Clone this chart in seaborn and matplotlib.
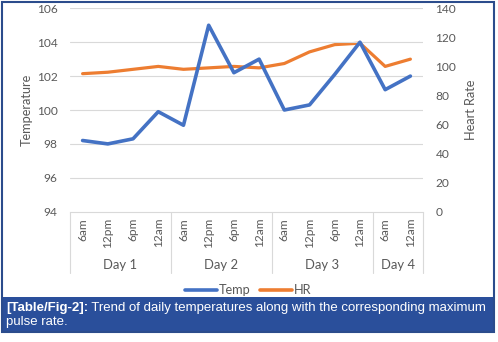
import matplotlib
matplotlib.use("Agg")
import matplotlib.pyplot as plt
import seaborn as sns
import pandas as pd
from matplotlib.patches import Rectangle
from matplotlib import transforms
from matplotlib.text import Annotation

# ---- data ----
days = ["Day 1", "Day 2", "Day 3", "Day 4"]
times = ["6am", "12pm", "6pm", "12am",
         "6am", "12pm", "6pm", "12am",
         "6am", "12pm", "6pm", "12am",
         "6am", "12am"]
day_of = ["Day 1"] * 4 + ["Day 2"] * 4 + ["Day 3"] * 4 + ["Day 4"] * 2
temp = [98.2, 98.0, 98.3, 99.9, 99.1, 105.0, 102.2, 103.0, 100.0, 100.3, 102.1, 104.0, 101.2, 102.0]
hr = [95, 96, 98, 100, 98, 99, 100, 99, 102, 110, 115, 116, 100, 105]
temp_ticks = [94, 96, 98, 100, 102, 104, 106]
hr_ticks = [0, 20, 40, 60, 80, 100, 120, 140]

df = pd.DataFrame({"pos": range(len(times)), "time": times, "day": day_of,
                   "Temp": temp, "HR": hr})

sns.set_theme(style="white")
plt.rcParams["font.family"] = ["Lato", "DejaVu Sans"]

W, H = 498, 342
fig = plt.figure(figsize=(W / 100, H / 100), dpi=100)
fig.patch.set_facecolor("white")

def fx(px):
    return px / W

def fy(py):
    return (H - py) / H

L, R, T, B = 70, 423, 8.3, 211.7
ax = fig.add_axes([fx(L), fy(B), fx(R) - fx(L), fy(T) - fy(B)])
ax2 = ax.twinx()

BLUE = "#4472C4"
ORANGE = "#ED7D31"
GRID = "#d9d9d9"
TXT = "#595959"
FS = 8.6

sns.lineplot(data=df, x="pos", y="Temp", ax=ax, color=BLUE, linewidth=2.6, legend=False)
sns.lineplot(data=df, x="pos", y="HR", ax=ax2, color=ORANGE, linewidth=2.3, legend=False)
ax.set_zorder(ax2.get_zorder() + 1)
ax.patch.set_visible(False)

ax.set_xlim(-0.5, len(times) - 0.5)
ax.set_ylim(94, 106)
ax2.set_ylim(0, 140)
ax.set_yticks(temp_ticks)
ax2.set_yticks(hr_ticks)
ax.set_yticklabels([str(t) for t in temp_ticks], color=TXT, fontsize=FS)
ax2.set_yticklabels([str(t) for t in hr_ticks], color=TXT, fontsize=FS)
ax.tick_params(axis="y", length=0, pad=9)
ax2.tick_params(axis="y", length=0, pad=9)

ax.set_xticks(df["pos"])
ax.set_xticklabels(times, rotation=90, color=TXT, fontsize=FS)
ax.tick_params(axis="x", length=0, pad=4.5)

for a in (ax, ax2):
    for s in a.spines.values():
        s.set_visible(False)
ax.spines["bottom"].set_visible(True)
ax.spines["bottom"].set_color(GRID)
ax.spines["bottom"].set_linewidth(0.8)

for t in temp_ticks[1:]:
    ax.axhline(t, color=GRID, linewidth=0.8, zorder=0)

ax.set_xlabel("")
ax.set_ylabel("Temperature", color=TXT, fontsize=9.2, labelpad=3)
ax2.set_ylabel("Heart Rate", color=TXT, fontsize=9.2, labelpad=6)

# multi-level category axis: separators and day labels
trans = transforms.blended_transform_factory(ax.transData, ax.transAxes)
sep_bottom = (B - 273) / (B - T)
day_label_y = (B - 265) / (B - T)
bounds = [-0.5]
count = 0
for d in days:
    count += day_of.count(d)
    bounds.append(count - 0.5)
for b in bounds:
    ax.plot([b, b], [0, sep_bottom], transform=trans, color=GRID, linewidth=0.8, clip_on=False)
for i, d in enumerate(days):
    ax.text((bounds[i] + bounds[i + 1]) / 2, day_label_y, d, transform=trans,
            ha="center", va="center", color=TXT, fontsize=9.4)

# legend
handles = [plt.Line2D([], [], color=BLUE, linewidth=2.6),
           plt.Line2D([], [], color=ORANGE, linewidth=2.6)]
fig.legend(handles, ["Temp", "HR"], loc="center", bbox_to_anchor=(fx(248), fy(290)),
           ncol=2, frameon=False, fontsize=9.2, handlelength=2.5, handletextpad=0.15,
           columnspacing=0.7, labelcolor=TXT)

# caption box and border
CAP = "#2a4f9b"
fig.patches.append(Rectangle((fx(2), fy(332)), fx(494) - fx(2), fy(297) - fy(332),
                             transform=fig.transFigure, facecolor=CAP, edgecolor="none"))
fig.patches.append(Rectangle((fx(2), fy(332)), fx(494) - fx(2), fy(1.5) - fy(332),
                             transform=fig.transFigure, facecolor="none", edgecolor="#2b4c8c",
                             linewidth=1.5))

cap_font = ["Liberation Sans", "DejaVu Sans"]
CFS = 9.5
t1 = fig.text(fx(6), fy(307.5), "[Table/Fig-2]:", color="white", fontsize=CFS,
              fontweight="bold", family=cap_font, va="center", ha="left")
a1 = Annotation(" Trend of daily temperatures along with the corresponding maximum",
                xy=(1, 0.5), xycoords=t1, va="center", ha="left", color="white",
                fontsize=CFS, family=cap_font)
fig.add_artist(a1)
fig.text(fx(6), fy(322.5), "pulse rate.", color="white", fontsize=CFS, family=cap_font,
         va="center", ha="left")

fig.savefig("out.png", dpi=100, facecolor="white")
